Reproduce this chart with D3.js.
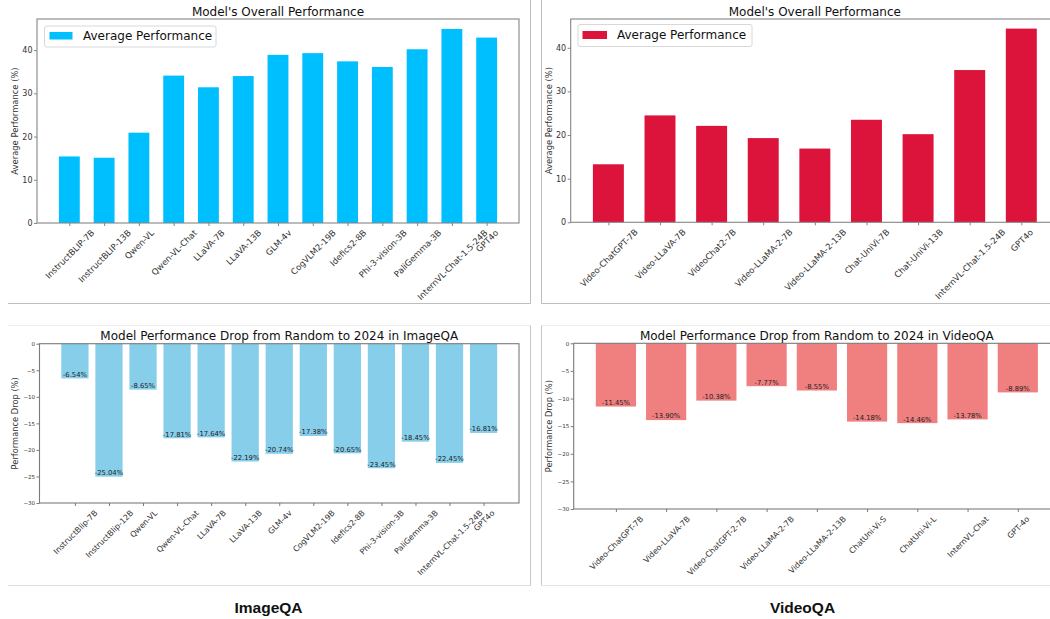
<!DOCTYPE html>
<html>
<head>
<meta charset="utf-8">
<script src="https://cdn.jsdelivr.net/npm/d3@7"></script>
<style>
  html, body { margin: 0; padding: 0; background: #fff; }
  svg { display: block; }
  text { font-family: "DejaVu Sans", sans-serif; }
  text.caption { font-family: "Liberation Sans", Arial, sans-serif; font-weight: bold; }
</style>
</head>
<body>
<svg id="chart" width="1050" height="619"></svg>
<script>
// ---------------- DATA ----------------
const imageCats = ["InstructBLIP-7B", "InstructBLIP-13B", "Qwen-VL", "Qwen-VL-Chat", "LLaVA-7B", "LLaVA-13B", "GLM-4v", "CogVLM2-19B", "Idefics2-8B", "Phi-3-vision-3B", "PaliGemma-3B", "InternVL-Chat-1.5-24B", "GPT4o"];
const imageAvg = [15.4, 15.1, 20.9, 34.1, 31.4, 34.0, 38.9, 39.3, 37.4, 36.1, 40.2, 44.9, 42.9];

const videoCats = ["Video-ChatGPT-7B", "Video-LLaVA-7B", "VideoChat2-7B", "Video-LLaMA-2-7B", "Video-LLaMA-2-13B", "Chat-UniVi-7B", "Chat-UniVi-13B", "InternVL-Chat-1.5-24B", "GPT4o"];
const videoAvg = [13.3, 24.5, 22.1, 19.3, 16.9, 23.5, 20.2, 34.9, 44.4];

const imageDropCats = ["InstructBlip-7B", "InstructBlip-12B", "Qwen-VL", "Qwen-VL-Chat", "LLaVA-7B", "LLaVA-13B", "GLM-4v", "CogVLM2-19B", "Idefics2-8B", "Phi-3-vision-3B", "PaliGemma-3B", "InternVL-Chat-1.5-24B", "GPT4o"];
const imageDrop = [-6.54, -25.04, -8.65, -17.81, -17.64, -22.19, -20.74, -17.38, -20.65, -23.45, -18.45, -22.45, -16.81];

const videoDropCats = ["Video-ChatGPT-7B", "Video-LLaVA-7B", "Video-ChatGPT-2-7B", "Video-LLaMA-2-7B", "Video-LLaMA-2-13B", "ChatUni-Vi-S", "ChatUni-Vi-L", "InternVL-Chat", "GPT-4o"];
const videoDrop = [-11.45, -13.90, -10.38, -7.77, -8.55, -14.18, -14.46, -13.78, -8.89];

const avgTicks = [0, 10, 20, 30, 40];
const dropTicks = [0, -5, -10, -15, -20, -25, -30];

const titleAvg = "Model's Overall Performance";
const titleImgDrop = "Model Performance Drop from Random to 2024 in ImageQA";
const titleVidDrop = "Model Performance Drop from Random to 2024 in VideoQA";
const legendLabel = "Average Performance";
const ylabelAvg = "Average Performance (%)";
const ylabelDrop = "Performance Drop (%)";
const captions = ["ImageQA", "VideoQA"];

// ---------------- DRAW ----------------
const svg = d3.select("#chart");

// panel border lines
const borders = [
  [8, 303.5, 530.5, 303.5, "#bdbdbd"],
  [530.5, 0, 530.5, 303.5, "#bdbdbd"],
  [541.5, 0, 541.5, 303.5, "#bdbdbd"],
  [541.5, 303.5, 1050, 303.5, "#bdbdbd"],
  [8, 325.5, 530.5, 325.5, "#ececec"],
  [530.5, 325.5, 530.5, 585.5, "#c8c8c8"],
  [8, 585.5, 530.5, 585.5, "#dedede"],
  [541.5, 325.5, 1050, 325.5, "#ececec"],
  [541.5, 325.5, 541.5, 585.5, "#c8c8c8"],
  [541.5, 585.5, 1050, 585.5, "#e4e4e4"]
];
svg.selectAll("line.border").data(borders).enter().append("line")
  .attr("class", "border")
  .attr("x1", d => d[0]).attr("y1", d => d[1])
  .attr("x2", d => d[2]).attr("y2", d => d[3])
  .attr("stroke", d => d[4]).attr("stroke-width", 1);

function drawChart(cfg) {
  const n = cfg.cats.length;
  const half = cfg.barW / 2;
  const span = (n - 1) + cfg.barW;
  const m = span * 0.05;
  const x = d3.scaleLinear().domain([-half - m, n - 1 + half + m]).range([cfg.left, cfg.right]);
  const y = d3.scaleLinear().domain(cfg.ydom).range([cfg.bottom, cfg.top]);
  const g = svg.append("g");
  const spine = cfg.spine;

  // bars
  g.selectAll("rect.bar").data(cfg.vals).enter().append("rect")
    .attr("class", "bar")
    .attr("x", (d, i) => x(i - half))
    .attr("width", (d, i) => x(i + half) - x(i - half))
    .attr("y", d => Math.min(y(d), y(0)))
    .attr("height", d => Math.abs(y(d) - y(0)))
    .attr("fill", cfg.color);

  // bar value labels
  if (cfg.barLabels) {
    g.selectAll("text.vlab").data(cfg.vals).enter().append("text")
      .attr("class", "vlab")
      .attr("x", (d, i) => x(i))
      .attr("y", d => y(d) - 1.6)
      .attr("text-anchor", "middle")
      .attr("font-size", cfg.barLabelSize)
      .attr("fill", "#222")
      .text(d => d.toFixed(2) + "%");
  }

  // frame
  g.append("rect")
    .attr("x", cfg.left).attr("y", cfg.top)
    .attr("width", cfg.right - cfg.left).attr("height", cfg.bottom - cfg.top)
    .attr("fill", "none").attr("stroke", spine).attr("stroke-width", 1.1);

  // y axis
  const ya = g.append("g").attr("transform", `translate(${cfg.left},0)`)
    .call(d3.axisLeft(y).tickValues(cfg.yticks).tickSize(3).tickPadding(1.5));
  ya.select(".domain").remove();
  ya.selectAll(".tick line").attr("stroke", spine);
  ya.selectAll(".tick text").attr("font-size", cfg.yTickSize).attr("fill", "#333");

  // x axis
  const xa = g.append("g").attr("transform", `translate(0,${cfg.bottom})`)
    .call(d3.axisBottom(x).tickValues(d3.range(n)).tickFormat(i => cfg.cats[i]).tickSize(3));
  xa.select(".domain").remove();
  xa.selectAll(".tick line").attr("stroke", spine);
  xa.selectAll(".tick text")
    .attr("font-size", cfg.xTickSize).attr("fill", "#333")
    .attr("text-anchor", "middle")
    .attr("y", 0).attr("dy", "0.35em")
    .each(function () {
      const L = this.getComputedTextLength();
      const H = cfg.xTickSize * 1.1;
      const off = (L + H) / (2 * Math.SQRT2);
      d3.select(this).attr("transform", `translate(0,${cfg.xPad + off}) rotate(-45)`);
    });

  // title
  g.append("text")
    .attr("x", (cfg.left + cfg.right) / 2).attr("y", cfg.titleY)
    .attr("text-anchor", "middle").attr("font-size", 12).attr("fill", "#111")
    .text(cfg.title);

  // y label
  g.append("text")
    .attr("transform", `translate(${cfg.ylabX},${(cfg.top + cfg.bottom) / 2}) rotate(-90)`)
    .attr("text-anchor", "middle").attr("dy", "0.35em")
    .attr("font-size", cfg.ylabSize).attr("fill", "#333")
    .text(cfg.ylabel);

  // legend
  if (cfg.legend) {
    const L = cfg.legend;
    g.append("rect").attr("x", L.x).attr("y", L.y).attr("width", L.w).attr("height", L.h)
      .attr("rx", 2).attr("fill", "#fff").attr("fill-opacity", 0.8)
      .attr("stroke", "#d8d8d8").attr("stroke-width", 1);
    g.append("rect").attr("x", L.px).attr("y", L.py).attr("width", L.pw).attr("height", L.ph)
      .attr("fill", cfg.color);
    g.append("text").attr("x", L.tx).attr("y", L.ty).attr("font-size", 12).attr("fill", "#111")
      .text(legendLabel);
  }
}

drawChart({
  cats: imageCats, vals: imageAvg, color: "#00BFFF", barW: 0.6,
  left: 37, right: 519, top: 19, bottom: 223, ydom: [0, 47.2], yticks: avgTicks,
  spine: "#858585", yTickSize: 8, xTickSize: 8.5, xPad: 5,
  title: titleAvg, titleY: 16, ylabel: ylabelAvg, ylabX: 15, ylabSize: 8.4,
  legend: { x: 44.5, y: 26, w: 171.5, h: 21, px: 49.5, py: 32, pw: 23, ph: 7.5, tx: 83, ty: 39.5 }
});

drawChart({
  cats: videoCats, vals: videoAvg, color: "#DC143C", barW: 0.6,
  left: 570.7, right: 1059, top: 19, bottom: 222.3, ydom: [0, 46.6], yticks: avgTicks,
  spine: "#858585", yTickSize: 8, xTickSize: 8.5, xPad: 5,
  title: titleAvg, titleY: 15.5, ylabel: ylabelAvg, ylabX: 549.5, ylabSize: 8.4,
  legend: { x: 578, y: 24.5, w: 174, h: 22, px: 582.5, py: 31, pw: 24.5, ph: 8, tx: 617, ty: 38.8 }
});

drawChart({
  cats: imageDropCats, vals: imageDrop, color: "#87CEEB", barW: 0.8,
  left: 39.5, right: 519, top: 343.7, bottom: 503, ydom: [-30, 0], yticks: dropTicks,
  spine: "#7a7a7a", yTickSize: 5.5, xTickSize: 7.9, xPad: 5.5,
  title: titleImgDrop, titleY: 340, ylabel: ylabelDrop, ylabX: 15.5, ylabSize: 8.3,
  barLabels: true, barLabelSize: 6.8
});

drawChart({
  cats: videoDropCats, vals: videoDrop, color: "#F08080", barW: 0.8,
  left: 573.7, right: 1060, top: 343.3, bottom: 509, ydom: [-30, 0], yticks: dropTicks,
  spine: "#7a7a7a", yTickSize: 5.5, xTickSize: 7.9, xPad: 5.5,
  title: titleVidDrop, titleY: 339.5, ylabel: ylabelDrop, ylabX: 549.5, ylabSize: 8.3,
  barLabels: true, barLabelSize: 6.8
});

// captions
svg.selectAll("text.caption").data(captions).enter().append("text")
  .attr("class", "caption")
  .attr("x", (d, i) => i === 0 ? 268.5 : 802.5)
  .attr("y", 612.5)
  .attr("text-anchor", "middle")
  .attr("font-size", 15.5)
  .attr("fill", "#111")
  .text(d => d);
</script>
</body>
</html>
